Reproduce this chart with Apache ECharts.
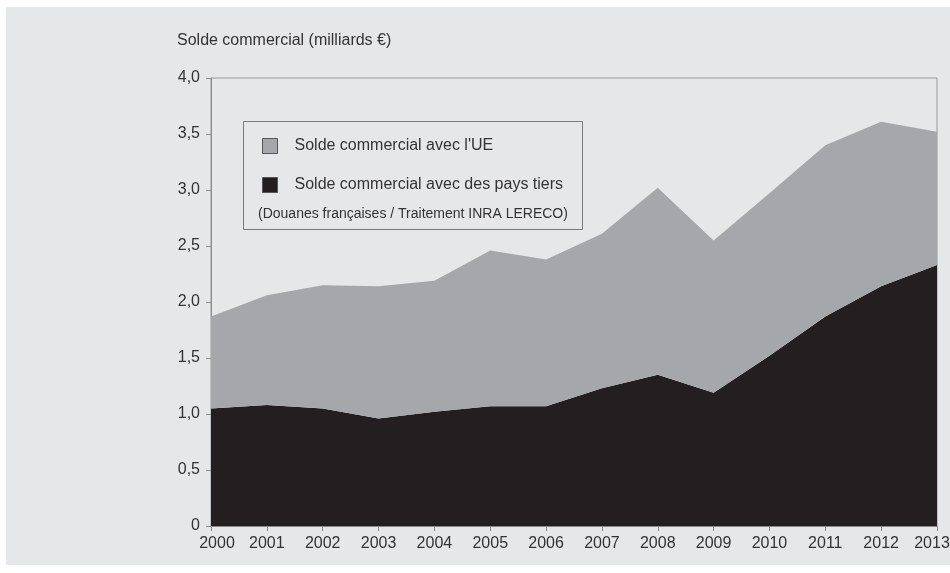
<!DOCTYPE html>
<html>
<head>
<meta charset="utf-8">
<script src="https://cdn.jsdelivr.net/npm/echarts@6/dist/echarts.min.js"></script>
<style>
html,body{margin:0;padding:0;background:#ffffff;}
#c{width:950px;height:573px;}
</style>
</head>
<body>
<div id="c"></div>
<script>
const years = ['2000','2001','2002','2003','2004','2005','2006','2007','2008','2009','2010','2011','2012','2013'];
// Solde commercial total (haut de la zone grise), milliards €
const totalValues = [1.87, 2.06, 2.15, 2.14, 2.19, 2.46, 2.38, 2.61, 3.02, 2.55, 2.97, 3.40, 3.61, 3.52];
// Solde commercial avec des pays tiers
const tiersValues = [1.05, 1.08, 1.05, 0.96, 1.02, 1.07, 1.07, 1.23, 1.35, 1.19, 1.52, 1.87, 2.14, 2.33];
// Solde commercial avec l'UE = total - pays tiers
const ueValues = totalValues.map((t, i) => +(t - tiersValues[i]).toFixed(3));
const yTicks = [0, 0.5, 1, 1.5, 2, 2.5, 3, 3.5, 4];

const FONT = '"Liberation Sans", Arial, Helvetica, sans-serif';
const chart = echarts.init(document.getElementById('c'), null, {renderer: 'canvas'});

chart.setOption({
  animation: false,
  backgroundColor: '#ffffff',
  textStyle: {fontFamily: FONT},
  graphic: [
    {type: 'rect', z: -10, shape: {x: 6, y: 7, width: 944, height: 558}, style: {fill: '#e6e7e9'}},
    {type: 'text', left: 177, top: 33, style: {text: 'Solde commercial (milliards €)', fill: '#333333', font: '16px ' + FONT}},
    {type: 'rect', z: 50, shape: {x: 243.5, y: 121.5, width: 339, height: 108}, style: {fill: '#e6e7e9', stroke: '#7a7a7a', lineWidth: 1}},
    {type: 'text', z: 60, left: 258, top: 207, style: {text: '(Douanes françaises / Traitement INRA LERECO)', fill: '#333333', font: '14px ' + FONT}}
  ],
  legend: {
    z: 100,
    orient: 'vertical',
    left: 257,
    top: 133,
    itemWidth: 15,
    itemHeight: 15,
    itemGap: 23,
    icon: 'rect',
    data: ["Solde commercial avec l'UE", 'Solde commercial avec des pays tiers'],
    textStyle: {fontFamily: FONT, fontSize: 16, color: '#333333', padding: [0, 0, 0, 12]},
    itemStyle: {borderColor: '#555555', borderWidth: 1}
  },
  grid: {
    left: 211, right: 13, top: 78, bottom: 47,
    outerBoundsMode: 'none',
    containLabel: false,
    show: true, borderColor: '#9a9a9a', borderWidth: 1, backgroundColor: 'transparent'
  },
  xAxis: {
    type: 'category',
    data: years,
    boundaryGap: false,
    axisLine: {lineStyle: {color: '#8a8a8a'}},
    axisTick: {show: true, length: 5, lineStyle: {color: '#8a8a8a'}},
    axisLabel: {
      color: '#333333', fontSize: 16, fontFamily: FONT, margin: 10, interval: 0, hideOverlap: false,
      formatter: (v, i) => i === 0 ? '{first|' + v + '}' : (i === years.length - 1 ? '{last|' + v + '}' : v),
      rich: {
        first: {fontSize: 16, fontFamily: FONT, color: '#333333', padding: [0, 0, 0, 12]},
        last: {fontSize: 16, fontFamily: FONT, color: '#333333', padding: [0, 10, 0, 0]}
      }
    },
    splitLine: {show: false}
  },
  yAxis: {
    type: 'value',
    min: 0, max: 4, interval: 0.5,
    axisLine: {show: true, lineStyle: {color: '#8a8a8a'}},
    axisTick: {show: true, length: 5, lineStyle: {color: '#8a8a8a'}},
    axisLabel: {
      color: '#333333', fontSize: 16, fontFamily: FONT, margin: 11,
      formatter: v => v === 0 ? '0' : v.toFixed(1).replace('.', ',')
    },
    splitLine: {show: false}
  },
  series: [
    {
      name: 'Solde commercial avec des pays tiers',
      type: 'line', stack: 'total',
      data: tiersValues,
      showSymbol: false, symbol: 'none',
      lineStyle: {width: 0},
      itemStyle: {color: '#231f20'},
      areaStyle: {color: '#231f20', opacity: 1}
    },
    {
      name: "Solde commercial avec l'UE",
      type: 'line', stack: 'total',
      data: ueValues,
      showSymbol: false, symbol: 'none',
      lineStyle: {width: 0},
      itemStyle: {color: '#a6a7aa'},
      areaStyle: {color: '#a6a7aa', opacity: 1}
    }
  ]
});
</script>
</body>
</html>
